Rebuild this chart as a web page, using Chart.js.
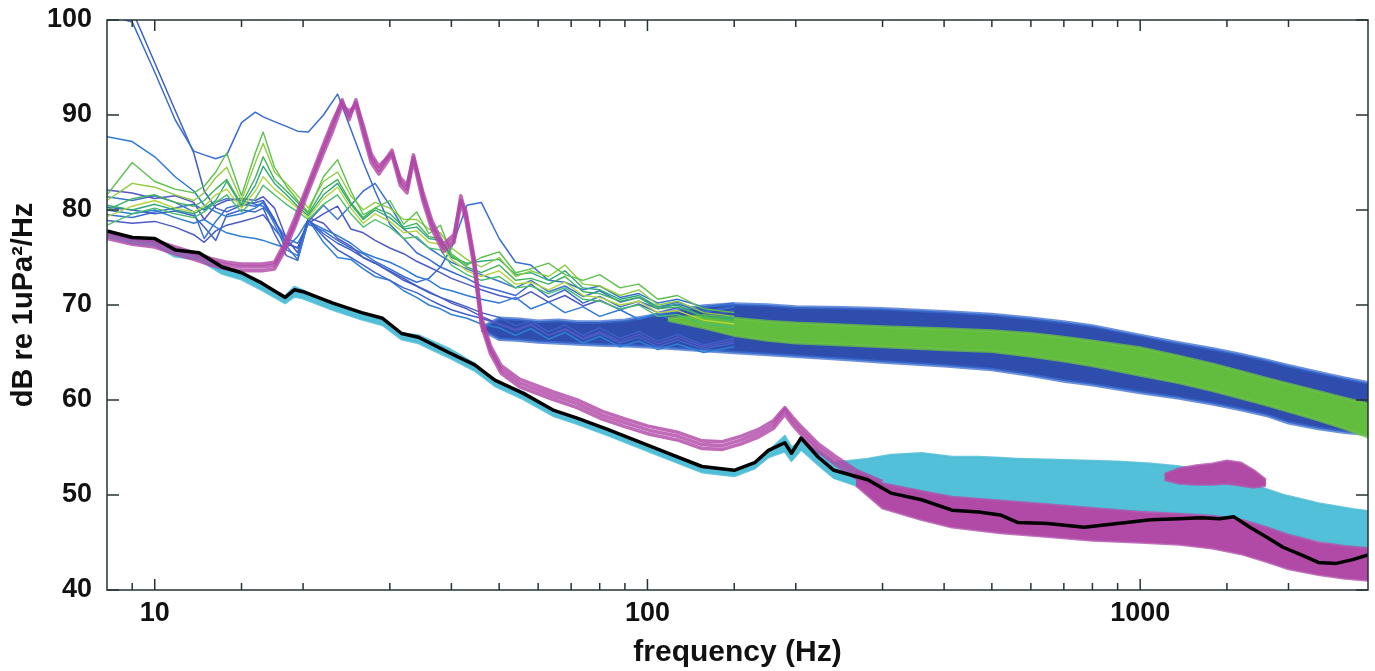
<!DOCTYPE html>
<html>
<head>
<meta charset="utf-8">
<script src="https://cdn.jsdelivr.net/npm/chart.js@4.4.1/dist/chart.umd.min.js"></script>
<style>
  html, body { margin: 0; padding: 0; background: #fff; }
</style>
</head>
<body>
<canvas id="psdChart" width="1375" height="671"></canvas>
<script>
// axis ticks
const xTickLabels = [10, 100, 1000];
const yTicks = [40, 50, 60, 70, 80, 90, 100];

// low frequency grid shared by the thin blue / green spectra
const lowHz = [8, 9, 10, 11, 12, 12.6, 13.3, 14, 15, 16, 16.6, 17.5, 18.5, 19.5, 20.5, 22,
  23.5, 25, 26.5, 28, 30, 32, 34, 36, 38, 40, 43, 46, 50, 54, 58, 63,
  68, 74, 80, 88, 96, 105, 115, 130, 150];

const blue1 = [100.5, 99.8, 94.5, 89.5, 86.2, 85.8, 85.4, 85.8, 89.2, 90.3, 89.8, 89.3, 88.8, 88.3, 88.2, 90.0,
  92.2, 88.5, 85.0, 82.0, 78.5, 77.0, 75.5, 74.8, 74.0, 73.5, 72.8, 72.0, 71.5, 71.0, 72.2, 70.8,
  71.6, 70.2, 70.9, 69.8, 70.4, 69.6, 70.1, 69.3, 69.8];
const blue2 = [101, 101, 95.5, 90.5, 86.0, 82.0, 80.2, 79.8, 80.5, 80.8, 81.0, 79.0, 76.5, 76.0, 79.0, 77.5,
  76.5, 75.8, 75.0, 74.4, 73.5, 72.6, 72.0, 71.3, 70.8, 70.4, 69.8, 69.2, 68.7, 67.8, 68.3, 67.2,
  67.9, 66.8, 67.6, 66.5, 67.2, 66.2, 66.9, 65.8, 66.5];
const blue3 = [87.7, 87.2, 85.6, 83.5, 82.0, 80.5, 79.8, 79.3, 79.6, 80.2, 80.8, 78.5, 75.8, 75.2, 78.8, 78.0,
  77.3, 76.5, 75.5, 75.0, 74.5, 73.8, 73.0, 72.6, 71.8, 71.5, 71.0, 70.6, 70.2, 70.8, 69.6, 70.3,
  69.2, 69.8, 68.8, 69.5, 68.5, 69.1, 68.2, 68.8, 68.0];
const blue4 = [82.1, 81.8, 81.2, 81.5, 80.8, 79.0, 80.5, 81.0, 81.2, 81.0, 81.4, 80.2, 77.0, 75.5, 79.2, 78.6,
  77.0, 76.2, 75.0, 74.4, 73.6, 72.8, 72.0, 71.4, 70.8, 70.2, 69.6, 68.8, 68.0, 67.4, 68.0, 66.8,
  67.5, 66.5, 67.2, 66.2, 66.9, 65.9, 66.6, 65.6, 66.2];
const blue5 = [81.4, 81.0, 81.5, 80.8, 79.8, 77.0, 78.8, 80.2, 80.6, 80.4, 80.8, 79.0, 76.2, 74.8, 78.8, 80.5,
  79.0, 80.5, 82.0, 82.8, 80.5, 78.0, 77.0, 76.0, 75.2, 74.5, 73.8, 73.2, 72.5, 71.8, 72.6, 71.4,
  72.0, 70.9, 71.5, 70.3, 70.8, 69.8, 70.3, 69.3, 69.8];
const blue6 = [80.3, 80.0, 79.6, 79.9, 79.4, 78.2, 76.8, 79.5, 80.0, 79.8, 80.2, 77.5, 75.2, 74.7, 78.9, 77.2,
  75.8, 75.0, 74.2, 73.4, 72.6, 71.8, 71.3, 70.6, 70.0, 69.5, 69.0, 68.6, 68.0, 67.3, 67.9, 66.8,
  67.4, 66.4, 67.0, 66.0, 66.6, 65.6, 66.3, 65.4, 66.0];
const blue7 = [80.0, 79.6, 80.0, 79.2, 78.6, 79.0, 78.2, 77.6, 77.2, 77.0, 76.8, 76.4, 76.0, 77.2, 79.0, 76.6,
  75.0, 74.8, 73.8, 73.0, 72.6, 71.5, 70.8, 70.0, 69.6, 69.0, 68.6, 68.0, 67.6, 66.8, 67.5, 66.4,
  67.1, 66.0, 66.7, 65.6, 66.2, 65.3, 65.9, 65.0, 65.6];
const blue8 = [78.9, 78.6, 78.8, 78.2, 77.4, 76.6, 77.8, 78.4, 78.8, 79.2, 79.5, 78.0, 76.5, 76.0, 78.6, 79.6,
  80.4, 78.0, 77.6, 76.8, 76.0, 75.4, 74.6, 74.0, 73.4, 72.8, 72.2, 71.6, 71.0, 70.6, 71.4, 70.3,
  71.0, 69.9, 70.5, 69.5, 70.1, 69.2, 69.7, 68.8, 69.4];
const blue9 = [79.5, 79.2, 79.8, 80.2, 80.6, 80.0, 80.8, 81.2, 81.0, 80.6, 80.4, 78.8, 77.0, 76.5, 78.5, 77.8,
  76.8, 76.0, 75.4, 74.6, 73.8, 73.0, 72.4, 72.8, 74.0, 76.0, 80.5, 80.8, 77.0, 74.5, 74.2, 72.6,
  72.4, 71.6, 72.0, 70.8, 71.2, 70.2, 70.6, 69.8, 70.2];

const green1 = [81.6, 85.0, 83.0, 82.2, 81.8, 82.5, 84.0, 86.0, 81.5, 86.0, 88.2, 84.5, 82.5, 81.0, 79.8, 83.5,
  85.3, 82.0, 79.5, 80.2, 81.0, 78.5, 79.8, 77.5, 78.4, 75.4, 74.2, 75.0, 75.6, 73.4, 73.8, 74.4,
  73.2, 72.6, 73.2, 71.8, 72.2, 70.6, 71.0, 69.6, 69.2];
const green2 = [81.0, 82.8, 82.4, 81.6, 81.0, 81.8, 83.4, 84.5, 81.0, 85.0, 87.0, 84.0, 82.8, 81.5, 80.2, 83.0,
  84.0, 81.5, 80.0, 80.8, 80.2, 79.0, 79.0, 78.0, 77.6, 76.0, 74.8, 74.0, 75.0, 73.0, 73.6, 73.0,
  74.2, 72.2, 72.0, 71.0, 71.6, 70.0, 70.4, 69.2, 68.8];
const green3 = [80.0, 81.2, 81.6, 80.8, 80.4, 81.0, 82.2, 83.2, 80.6, 83.4, 85.6, 83.2, 82.0, 80.8, 79.6, 82.2,
  83.2, 80.8, 79.2, 80.2, 79.6, 78.2, 78.6, 77.2, 77.0, 75.2, 74.0, 73.4, 74.2, 72.6, 72.8, 72.2,
  73.0, 71.4, 71.2, 70.4, 70.8, 69.6, 69.8, 68.8, 68.4];
const green4 = [79.3, 80.4, 81.0, 80.2, 79.8, 80.4, 81.6, 82.2, 80.2, 82.0, 83.5, 82.2, 81.2, 80.2, 79.2, 81.2,
  82.4, 80.2, 78.6, 79.6, 78.8, 77.6, 77.8, 76.6, 76.4, 74.8, 73.6, 73.0, 73.6, 72.2, 72.4, 71.6,
  72.4, 71.0, 70.8, 70.0, 70.4, 69.2, 69.4, 68.4, 68.0];
const green5 = [78.4, 79.6, 80.2, 79.6, 79.2, 79.8, 80.8, 81.6, 79.8, 81.2, 82.6, 81.6, 80.6, 79.8, 79.0, 80.6,
  81.6, 79.6, 78.2, 79.0, 78.2, 77.0, 77.2, 76.0, 75.8, 74.2, 73.2, 72.6, 73.0, 71.8, 72.0, 71.2,
  71.8, 70.6, 70.4, 69.6, 70.0, 68.8, 69.0, 68.0, 67.6];
const green6 = [80.5, 80.0, 80.6, 80.0, 79.6, 80.2, 81.0, 83.0, 80.4, 82.6, 84.6, 82.8, 81.6, 80.4, 79.4, 81.6,
  82.8, 80.6, 79.0, 80.0, 79.2, 78.0, 78.2, 77.0, 76.8, 75.0, 74.4, 74.6, 74.8, 73.2, 73.4, 72.6,
  73.6, 71.8, 71.6, 70.6, 71.0, 69.8, 70.0, 68.8, 68.6];

// magenta spectra (low / mid frequency)
const magHz = [8, 9, 10, 11, 12, 13, 14, 15, 16.5, 17.5, 18.3, 19.2, 20.5, 22, 23, 24,
  24.8, 25.6, 26.5, 27.5, 28.5, 30.3, 31.5, 32.5, 33.5, 35, 36.5, 38.5, 40.5, 41.8, 42.8, 44.5,
  46, 48, 50.5, 55, 64, 72, 81, 90, 101, 115, 129, 142, 155, 168, 180, 190,
  197, 205, 222, 240, 265, 300];
const mag1 = [77.4, 76.8, 76.5, 75.8, 75.2, 74.6, 74.2, 74.0, 74.0, 74.2, 76.0, 78.5, 82.4, 86.5, 89.0, 91.6,
  89.5, 91.6, 88.5, 85.5, 84.2, 86.3, 83.0, 82.2, 85.8, 81.5, 78.5, 76.0, 77.0, 81.5, 79.5, 74.5,
  68.4, 65.3, 63.2, 61.8, 60.5, 59.6, 58.4, 57.6, 56.8, 56.2, 55.3, 55.2, 55.8, 56.5, 57.4, 59.0,
  57.8, 56.8, 55.0, 53.7, 52.2, 51.0];
const mag2 = [77.0, 76.4, 76.1, 75.4, 74.8, 74.2, 73.8, 73.6, 73.6, 73.8, 75.6, 78.1, 82.0, 86.0, 88.4, 91.0,
  90.4, 91.0, 88.0, 85.0, 83.8, 85.8, 82.6, 81.8, 85.2, 81.0, 78.0, 75.6, 76.6, 80.8, 79.0, 74.0,
  67.9, 64.9, 62.8, 61.4, 60.1, 59.2, 58.0, 57.2, 56.4, 55.8, 54.9, 54.8, 55.4, 56.1, 57.0, 58.5,
  57.4, 56.4, 54.6, 53.3, 51.8, 50.6];
const mag3 = [77.7, 77.1, 76.8, 76.1, 75.5, 74.9, 74.5, 74.3, 74.3, 74.5, 76.4, 79.0, 82.8, 86.9, 89.4, 91.4,
  89.9, 91.3, 88.9, 85.9, 84.6, 86.0, 83.4, 82.6, 85.5, 81.9, 78.9, 76.4, 77.4, 81.0, 79.9, 74.9,
  68.8, 65.7, 63.6, 62.2, 60.9, 60.0, 58.8, 58.0, 57.2, 56.6, 55.7, 55.6, 56.2, 56.9, 57.8, 59.2,
  58.2, 57.2, 55.4, 54.1, 52.6, 51.4];

// magenta high frequency band and the short strand near 1.5 kHz
const magHiHz = [265, 300, 360, 415, 520, 650, 800, 1000, 1200, 1400, 1600, 1800, 2000, 2300, 2600, 2900];
const magHiTop = [52.4, 51.2, 50.4, 49.8, 49.4, 49.0, 48.6, 48.2, 48.0, 47.8, 47.4, 46.6, 45.8, 45.0, 44.6, 44.4];
const magHiBot = [51.0, 48.6, 47.4, 46.6, 46.0, 45.6, 45.2, 45.0, 44.8, 44.4, 43.8, 43.0, 42.2, 41.6, 41.2, 41.0];
const strandHz = [1120, 1200, 1300, 1400, 1500, 1600, 1700, 1800];
const strandTop = [52.2, 52.8, 53.1, 53.3, 53.6, 53.4, 52.6, 51.6];
const strandBot = [51.6, 51.2, 51.1, 51.1, 51.2, 51.0, 50.8, 51.0];

// black reference spectrum and the cyan spectra that follow it
const blackHz = [8, 9, 10, 11, 12.3, 13.7, 15, 16.5, 18.4, 19.2, 20, 23, 26.3, 29, 31.7, 34.3,
  39.5, 44.6, 49, 56, 64.6, 72, 83, 94, 110, 129, 150, 165, 176, 190, 196, 205,
  222, 239, 280, 312, 360, 415, 470, 520, 565, 650, 770, 900, 1050, 1200, 1330, 1450,
  1550, 1670, 1800, 1950, 2100, 2300, 2500, 2700, 2900];
const blackDb = [77.8, 77.1, 77.0, 75.8, 75.5, 74.0, 73.4, 72.3, 70.8, 71.6, 71.4, 70.2, 69.2, 68.6, 67.0, 66.6,
  65.0, 63.7, 62.1, 60.7, 58.9, 58.1, 56.9, 55.8, 54.4, 53.0, 52.6, 53.4, 54.7, 55.5, 54.4, 56.0,
  54.0, 52.6, 51.6, 50.2, 49.5, 48.4, 48.2, 47.9, 47.1, 47.0, 46.6, 47.0, 47.4, 47.5, 47.6, 47.5,
  47.7, 46.6, 45.6, 44.5, 43.8, 42.9, 42.8, 43.2, 43.7];
const cyanTop = [77.6, 77.0, 76.8, 75.7, 75.3, 73.9, 73.2, 72.2, 70.9, 71.9, 71.5, 70.0, 69.2, 68.4, 67.0, 66.8,
  65.4, 63.8, 62.0, 60.8, 58.8, 58.0, 56.8, 55.6, 54.2, 52.8, 52.4, 53.2, 54.6, 56.2, 55.0, 55.6,
  54.6, 53.4, 53.8, 54.2, 54.4, 54.0, 54.0, 53.9, 53.8, 53.7, 53.6, 53.5, 53.3, 53.0, 52.6, 52.2,
  51.8, 51.2, 50.6, 50.0, 49.6, 49.1, 48.8, 48.5, 48.3];
const cyanBot = [77.2, 76.5, 76.3, 75.1, 74.8, 73.3, 72.7, 71.6, 70.2, 70.9, 70.7, 69.5, 68.5, 67.9, 66.4, 66.0,
  64.5, 63.1, 61.5, 60.1, 58.3, 57.5, 56.3, 55.2, 53.8, 52.4, 52.0, 52.8, 54.0, 54.6, 53.6, 54.8,
  53.2, 51.8, 50.6, 49.8, 49.4, 49.2, 49.0, 48.8, 48.7, 48.6, 48.5, 48.4, 48.3, 48.1, 47.9, 47.6,
  47.3, 46.8, 46.4, 46.0, 45.6, 45.2, 44.8, 44.5, 44.3];

// dense blue and green bands
const blueBandHz = [46, 50, 55, 60, 66, 72, 80, 90, 100, 115, 130, 150, 175, 200, 250, 300,
  400, 500, 600, 700, 800, 1000, 1200, 1400, 1600, 1800, 2000, 2300, 2600, 2900];
const blueBandTop = [67.6, 68.6, 68.5, 68.3, 68.4, 68.2, 68.2, 68.4, 68.8, 69.4, 69.9, 70.1, 70.0, 69.8, 69.7, 69.6,
  69.3, 69.0, 68.6, 68.2, 67.8, 66.8, 66.0, 65.4, 64.8, 64.2, 63.6, 62.9, 62.3, 61.8];
const blueBandBot = [67.4, 66.4, 66.3, 66.1, 66.0, 65.9, 65.8, 65.7, 65.6, 65.4, 65.2, 65.0, 64.8, 64.6, 64.3, 64.0,
  63.6, 63.2, 62.6, 62.0, 61.6, 60.8, 60.2, 59.6, 59.0, 58.4, 57.6, 57.0, 56.6, 56.4];
const greenBandHz = [110, 130, 150, 175, 200, 250, 300, 400, 500, 600, 700, 800, 1000, 1200, 1400, 1600,
  1800, 2000, 2300, 2600, 2900];
const greenBandTop = [68.6, 68.9, 68.6, 68.3, 68.1, 67.9, 67.7, 67.5, 67.3, 67.0, 66.6, 66.2, 65.5, 64.6, 63.8, 63.0,
  62.3, 61.7, 60.9, 60.2, 59.6];
const greenBandBot = [68.4, 67.6, 66.8, 66.3, 66.0, 65.8, 65.6, 65.3, 65.1, 64.6, 64.1, 63.6, 62.6, 61.8, 61.0, 60.2,
  59.5, 58.8, 57.9, 57.0, 56.1];

const pts = (hz, db) => hz.map((f, i) => ({ x: f, y: db[i] }));

const datasets = [];
const addLine = (hz, db, color, width, order) => {
  datasets.push({
    data: pts(hz, db), borderColor: color, borderWidth: width,
    pointRadius: 0, fill: false, order: order, borderJoinStyle: 'round'
  });
};
// band = upper edge + lower edge filled back to the upper one
const addBand = (hz, top, bot, color, edge, edgeWidth, order) => {
  addLine(hz, top, edge, edgeWidth, order);
  datasets.push({
    data: pts(hz, bot), borderColor: edge, borderWidth: edgeWidth, backgroundColor: color,
    pointRadius: 0, fill: '-1', order: order, borderJoinStyle: 'round'
  });
};

addBand(blueBandHz, blueBandTop, blueBandBot, '#2f4dac', 'rgba(58,108,208,0.75)', 3.5, 9);
const blues = [blue1, blue2, blue3, blue4, blue5, blue6, blue7, blue8, blue9];
const blueColors = ['#3a6cd0', '#3d5fc6', '#2f7ad8', '#5456c2', '#3d74cf', '#4162c9', '#2d80d4', '#4b5cc6', '#3a70d2'];
blues.forEach((b, i) => addLine(lowHz, b, blueColors[i], 1.5, 8));

addBand(greenBandHz, greenBandTop, greenBandBot, '#62bd3e', 'rgba(110,196,66,0.75)', 3, 7);
const greens = [green1, green2, green3, green4, green5, green6];
const greenColors = ['#5cc04a', '#8ccc3e', '#3fb25a', '#b3d43a', '#4bbf6e', '#2ea87c'];
greens.forEach((g, i) => addLine(lowHz, g, greenColors[i], 1.4, 6));

addBand(blackHz, cyanTop, cyanBot, '#52c0d8', 'rgba(76,188,214,0.85)', 2.5, 5);
addBand(magHiHz, magHiTop, magHiBot, '#b04aa6', 'rgba(178,80,170,0.8)', 2.5, 4);
addBand(strandHz, strandTop, strandBot, '#b04aa6', 'rgba(178,80,170,0.8)', 2.5, 4);
[mag1, mag2, mag3].forEach(m => addLine(magHz, m, 'rgba(176,70,166,0.8)', 3.6, 3));

addLine(blackHz, blackDb, '#000000', 3.5, 0);

// frame with inward ticks on all four sides
const framePlugin = {
  id: 'frame',
  afterDatasetsDraw(chart) {
    const { ctx, chartArea: a, scales: { x, y } } = chart;
    ctx.save();
    ctx.strokeStyle = '#243434';
    ctx.lineWidth = 1.5;
    ctx.strokeRect(a.left, a.top, a.right - a.left, a.bottom - a.top);
    ctx.beginPath();
    x.ticks.forEach(t => {
      if (t.value <= x.min || t.value >= x.max) return;
      const px = x.getPixelForValue(t.value);
      const len = xTickLabels.includes(t.value) ? 11 : 7;
      ctx.moveTo(px, a.bottom); ctx.lineTo(px, a.bottom - len);
      ctx.moveTo(px, a.top); ctx.lineTo(px, a.top + len);
    });
    y.ticks.forEach(t => {
      const py = y.getPixelForValue(t.value);
      ctx.moveTo(a.left, py); ctx.lineTo(a.left + 12, py);
      ctx.moveTo(a.right, py); ctx.lineTo(a.right - 12, py);
    });
    ctx.stroke();
    ctx.restore();
  }
};

const ctx = document.getElementById('psdChart').getContext('2d');
new Chart(ctx, {
  type: 'line',
  data: { datasets: datasets },
  plugins: [framePlugin],
  options: {
    responsive: false,
    animation: false,
    devicePixelRatio: 1,
    layout: { padding: { top: 20, right: 7, left: 0, bottom: 0 } },
    plugins: { legend: { display: false }, tooltip: { enabled: false } },
    scales: {
      x: {
        type: 'logarithmic',
        min: 8,
        max: 2900,
        afterFit: (s) => { s.height = 81; s.paddingLeft = 0; s.paddingRight = 0; },
        grid: { display: false, drawTicks: false },
        border: { display: false },
        ticks: {
          autoSkip: false, maxRotation: 0, padding: 7, color: '#111',
          font: { family: 'Liberation Sans, Arial, sans-serif', size: 27, weight: 'bold' },
          callback: (v) => xTickLabels.includes(v) ? String(v) : ''
        },
        title: {
          display: true, text: 'frequency (Hz)', color: '#111',
          font: { family: 'Liberation Sans, Arial, sans-serif', size: 30, weight: 'bold' },
          padding: { top: 0, bottom: 0 }
        }
      },
      y: {
        min: yTicks[0],
        max: yTicks[yTicks.length - 1],
        afterFit: (s) => { s.width = 107; s.paddingTop = 0; s.paddingBottom = 0; },
        afterBuildTicks: (s) => { s.ticks = yTicks.map(v => ({ value: v })); },
        grid: { display: false, drawTicks: false },
        border: { display: false },
        ticks: {
          padding: 15, color: '#111',
          font: { family: 'Liberation Sans, Arial, sans-serif', size: 27, weight: 'bold' }
        },
        title: {
          display: true, text: 'dB re 1uPa²/Hz', color: '#111',
          font: { family: 'Liberation Sans, Arial, sans-serif', size: 29, weight: 'bold' },
          padding: { top: 7, bottom: 0 }
        }
      }
    }
  }
});
</script>
</body>
</html>
